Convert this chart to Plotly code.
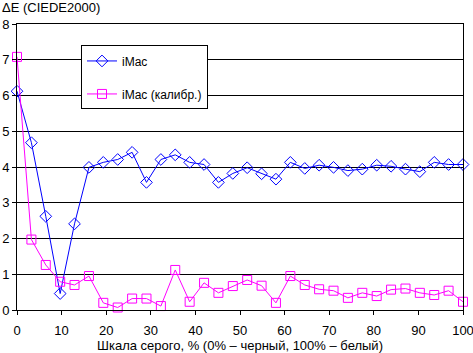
import plotly.graph_objects as go

x_vals = [round(i * 100 / 31, 2) for i in range(32)]

imac = [6.12, 4.68, 2.62, 0.46, 2.41, 3.99, 4.13, 4.21, 4.41, 3.57, 4.21, 4.34,
        4.13, 4.07, 3.57, 3.82, 3.98, 3.81, 3.66, 4.13, 3.96, 4.05, 3.99, 3.90,
        3.94, 4.05, 4.02, 3.94, 3.87, 4.13, 4.07, 4.07]
imac_cal = [7.08, 1.97, 1.26, 0.79, 0.70, 0.95, 0.20, 0.07, 0.32, 0.32, 0.11, 1.12,
            0.23, 0.76, 0.48, 0.67, 0.84, 0.68, 0.20, 0.95, 0.70, 0.58, 0.54, 0.34,
            0.48, 0.39, 0.57, 0.60, 0.48, 0.42, 0.54, 0.23]

names = ["iMac", "iMac (калибр.)"]
x_ticks = [0, 10, 20, 30, 40, 50, 60, 70, 80, 90, 100]
y_ticks = [0, 1, 2, 3, 4, 5, 6, 7, 8]

FONT = "Liberation Sans, Arial, sans-serif"

fig = go.Figure()
fig.add_trace(go.Scatter(
    x=x_vals, y=imac, name=names[0], mode="lines+markers", legendgroup="a",
    line=dict(color="#0000FF", width=1),
    marker=dict(symbol="diamond-open", size=9, color="#0000FF", line=dict(width=1)),
    cliponaxis=False,
))
fig.add_trace(go.Scatter(
    x=x_vals, y=imac_cal, name=names[1], mode="lines+markers", legendgroup="b",
    line=dict(color="#FF00FF", width=1),
    marker=dict(symbol="square-open", size=9, color="#FF00FF", line=dict(width=1)),
    cliponaxis=False,
))

fig.update_layout(
    width=473, height=353,
    margin=dict(l=17, r=10, t=24, b=43),
    paper_bgcolor="white", plot_bgcolor="white",
    font=dict(family=FONT, size=13, color="black"),
    showlegend=True,
    legend=dict(
        x=0.1435, y=0.925, xanchor="left", yanchor="top",
        bgcolor="white", bordercolor="black", borderwidth=1,
        font=dict(family=FONT, size=12, color="black"),
        itemwidth=30, tracegroupgap=14, traceorder="grouped",
    ),
    xaxis=dict(
        range=[0, 100], tickvals=x_ticks, showgrid=False, zeroline=False,
        showline=True, linecolor="black", linewidth=1, mirror=True,
        ticks="outside", ticklen=4, tickcolor="black", automargin=False,
        tickfont=dict(family=FONT, size=13), ticklabeloverflow="allow",
        ticklabelstandoff=4,
        title=dict(text="Шкала серого, % (0% – черный, 100% – белый)",
                   font=dict(family=FONT, size=13), standoff=7),
    ),
    yaxis=dict(
        range=[0, 8], tickvals=y_ticks, showgrid=True, gridcolor="black",
        gridwidth=1, zeroline=False, automargin=False,
        showline=True, linecolor="black", linewidth=1, mirror=True,
        ticks="outside", ticklen=4, tickcolor="black",
        tickfont=dict(family=FONT, size=13), ticklabeloverflow="allow",
    ),
    annotations=[dict(
        text="ΔE (CIEDE2000)", xref="paper", yref="paper",
        x=-17 / 446, y=(310 - 8) / 286, xanchor="left", yanchor="middle",
        showarrow=False, font=dict(family=FONT, size=13),
    )],
)

fig.write_html("out.html")
